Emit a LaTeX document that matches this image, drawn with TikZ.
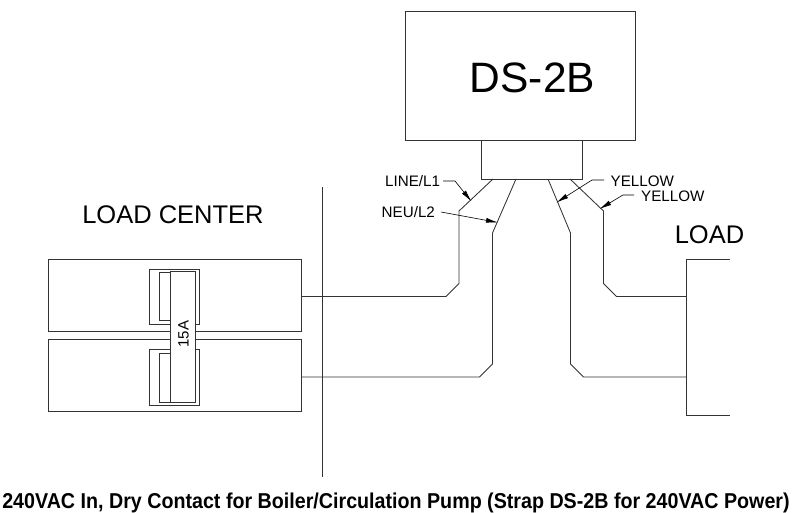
\documentclass[tikz,border=0pt]{standalone}
\usepackage{fontspec}
\setmainfont{Liberation Sans}
\newfontfamily\capfont[FakeStretch=0.915]{Liberation Sans}
\usetikzlibrary{arrows.meta,calc}
\tikzset{
  line/.style={draw=black!80,line width=0.85pt,line join=miter},
  boxed/.style={line,fill=white,inner sep=0pt,outer sep=0pt,anchor=north west},
  leader/.style={draw=black,line width=0.6pt,-{Latex[length=12pt,width=5pt]}},
  lbl/.style={inner sep=0pt,anchor=base west,font=\fontsize{15.2}{17}\selectfont},
  big/.style={inner sep=0pt,anchor=base,font=\fontsize{25.5}{28}\selectfont}
}
\begin{document}
\begin{tikzpicture}[x=1pt,y=-1pt]
\useasboundingbox (0,0) rectangle (793,513);
% DS-2B
\node[boxed,minimum width=230pt,minimum height=129pt] (ds) at (405,11) {};
\node[inner sep=0pt,anchor=base,font=\fontsize{42.5}{46}\selectfont] (dslabel) at (532.5,93) {DS-2B};
\node[boxed,minimum width=101pt,minimum height=39pt] (conn) at (481,140) {};
% load centre
\node[boxed,minimum width=253pt,minimum height=72pt] (upper) at (48,259) {};
\node[boxed,minimum width=253pt,minimum height=72pt] (lower) at (48,339) {};
\node[big] (lc) at (173,223.5) {LOAD CENTER};
\coordinate (divtop) at (322,187);
\coordinate (divbot) at (322,477);
\draw[line] (divtop) -- (divbot);
% breaker
\node[boxed,minimum width=50.5pt,minimum height=55pt] (b1) at (149,269) {};
\node[boxed,minimum width=20pt,minimum height=48pt] (b1i) at (159.5,272.5) {};
\node[boxed,minimum width=50.5pt,minimum height=56pt] (b2) at (149,349.5) {};
\node[boxed,minimum width=20pt,minimum height=49pt] (b2i) at (159.5,353) {};
\node[boxed,minimum width=24.5pt,minimum height=131pt] (handle) at (170.5,271.5) {};
\node[inner sep=0pt,rotate=90,font=\fontsize{15}{17}\selectfont] (amp) at (183.5,334) {15A};
% load
\coordinate (loadtr) at (730,259);
\coordinate (loadtl) at (686,259);
\coordinate (loadbl) at (686,415);
\coordinate (loadbr) at (730,415);
\draw[line] (loadtr) -- (loadtl) -- (loadbl) -- (loadbr);
\node[big] (loadlabel) at (709.5,244) {LOAD};
% wires
\coordinate (l1s) at (493,179);
\coordinate (l2s) at (516,179);
\coordinate (y1s) at (548,179);
\coordinate (y2s) at (570,179);
\draw[line] (l1s) -- (459,211) -- (459,283.5) -- (446,296.5) -- (upper.east |- 0,296.5);
\draw[line] (l2s) -- (492.5,233) -- (492.5,364) -- (479.5,377) -- (lower.east |- 0,377);
\draw[line] (y1s) -- (570.5,233) -- (570.5,364) -- (583.5,377) -- (loadtl |- 0,377);
\draw[line] (y2s) -- (603.5,211) -- (603.5,283.5) -- (616.5,296.5) -- (loadtl |- 0,296.5);
% labels and leaders
\node[lbl] (line) at (385,187) {LINE/L1};
\node[lbl] (neu) at (381.5,218) {NEU/L2};
\node[lbl] (yel1) at (610.5,186.5) {YELLOW};
\node[lbl] (yel2) at (641,201.5) {YELLOW};
\coordinate (s1) at (443,181);
\coordinate (s2) at (441,212);
\coordinate (s3) at (604,180);
\coordinate (s4) at (634,195);
\coordinate (t1) at (471.5,201.5);
\coordinate (t2) at (498,222.5);
\coordinate (t3) at (556.5,202.5);
\coordinate (t4) at (599.5,209);
\draw[leader] (s1) -- ++(12,0) -- (t1);
\draw[leader] (s2) -- (t2);
\draw[leader] (s3) -- ++(-12,0) -- (t3);
\draw[leader] (s4) -- ++(-11,0) -- (t4);
% caption
\node[inner sep=0pt,anchor=base,font=\capfont\bfseries\fontsize{21.5}{24}\selectfont] (cap) at (396,508.5) {240VAC In, Dry Contact for Boiler/Circulation Pump (Strap DS-2B for 240VAC Power)};
\end{tikzpicture}
\end{document}
